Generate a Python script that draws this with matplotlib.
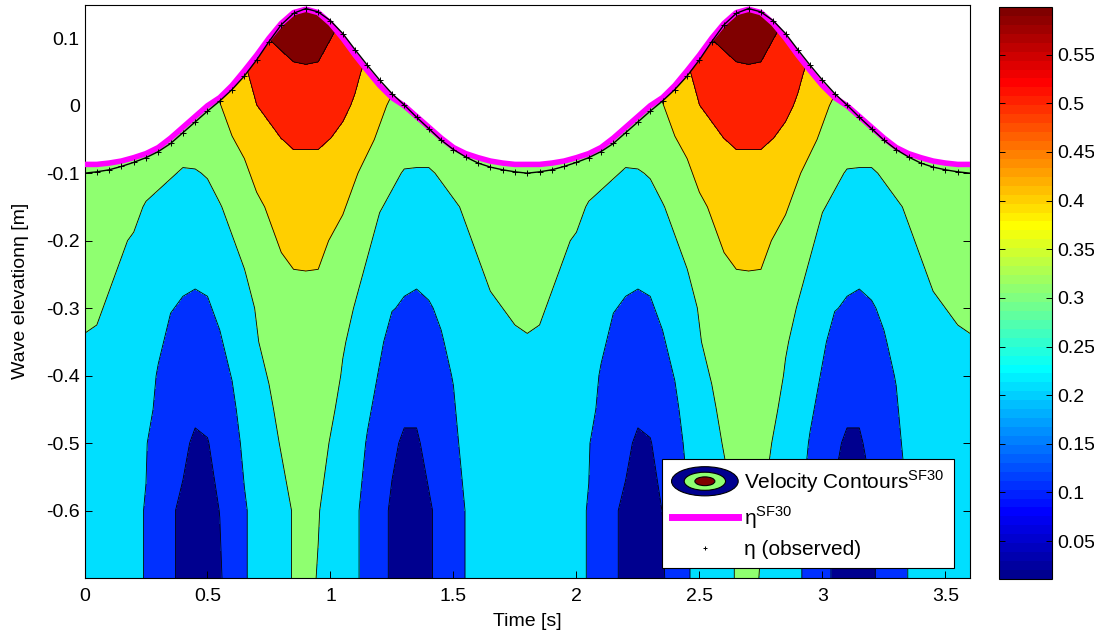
import numpy as np
import matplotlib
matplotlib.use('Agg')
import matplotlib.pyplot as plt
from matplotlib.colors import ListedColormap, Normalize
from matplotlib.cm import ScalarMappable
from matplotlib.patches import Ellipse, Patch
from matplotlib.lines import Line2D
from matplotlib.legend_handler import HandlerBase

plt.rcParams['font.family'] = ['Liberation Sans', 'DejaVu Sans']
plt.rcParams['mathtext.fontset'] = 'custom'
plt.rcParams['mathtext.rm'] = 'Liberation Sans'
plt.rcParams['axes.unicode_minus'] = False

# one wave period, sampled every 0.05 s from 0 to 1.8 s; the record shows it twice
period_samples = 37

eta_sf30 = [-0.087, -0.087, -0.085, -0.082, -0.077, -0.071, -0.062, -0.048, -0.032,
            -0.016, 0.000, 0.012, 0.030, 0.052, 0.075, 0.100, 0.122, 0.138, 0.143,
            0.138, 0.122, 0.100, 0.075, 0.052, 0.030, 0.012, 0.000, -0.016, -0.032,
            -0.048, -0.062, -0.071, -0.077, -0.082, -0.085, -0.087, -0.087]
eta_observed = [-0.100, -0.098, -0.095, -0.090, -0.084, -0.077, -0.068, -0.056, -0.040,
                -0.024, -0.008, 0.007, 0.024, 0.044, 0.068, 0.095, 0.120, 0.137, 0.144,
                0.139, 0.126, 0.107, 0.083, 0.060, 0.038, 0.018, 0.001, -0.017, -0.034,
                -0.051, -0.065, -0.076, -0.085, -0.091, -0.095, -0.098, -0.100]

# velocity magnitude [cm/s], one row per depth, one column per time sample
depth = [0.15, 0.10, 0.05, 0.0, -0.05, -0.10, -0.15, -0.20, -0.25, -0.30,
         -0.35, -0.40, -0.45, -0.50, -0.60, -0.70]
speed_cm = [
    [43, 42, 42, 42, 43, 45, 47, 46, 42, 47, 49, 48, 53, 56, 59, 61, 63, 64, 66, 64, 62, 61, 57, 55, 51, 50, 49, 46, 42, 44, 44, 42, 41, 41, 41, 42, 43],
    [42, 41, 41, 41, 41, 43, 44, 43, 40, 43, 45, 45, 50, 53, 56, 60, 61, 62, 63, 62, 60, 58, 55, 52, 48, 46, 45, 43, 40, 41, 41, 40, 40, 40, 40, 41, 42],
    [40, 40, 39, 39, 39, 40, 41, 40, 37, 40, 42, 43, 46, 49, 53, 56, 58, 59, 59, 59, 57, 55, 52, 48, 45, 43, 41, 40, 37, 39, 39, 39, 38, 39, 39, 40, 40],
    [39, 39, 38, 38, 37, 38, 38, 37, 35, 37, 38, 40, 43, 46, 50, 52, 54, 55, 55, 55, 54, 52, 49, 45, 42, 39, 38, 37, 35, 36, 37, 37, 37, 37, 38, 38, 39],
    [38, 37, 37, 36, 35, 35, 35, 34, 33, 34, 35, 37, 40, 42, 46, 48, 50, 51, 51, 51, 50, 48, 45, 42, 39, 35, 34, 33, 33, 34, 35, 35, 35, 36, 37, 37, 38],
    [37, 36, 35, 35, 34, 33, 32, 31, 30, 30, 31, 34, 36, 39, 42, 44, 47, 48, 48, 48, 47, 45, 41, 38, 35, 32, 30, 30, 30, 31, 32, 33, 34, 35, 35, 36, 37],
    [35, 35, 34, 33, 32, 30, 29, 28, 28, 28, 28, 30, 33, 36, 39, 41, 44, 45, 45, 45, 43, 41, 38, 35, 31, 29, 28, 27, 28, 29, 30, 31, 32, 33, 34, 35, 35],
    [34, 34, 33, 31, 30, 29, 27, 26, 25, 25, 25, 27, 30, 33, 36, 39, 41, 42, 43, 42, 40, 38, 35, 32, 28, 26, 25, 25, 25, 26, 28, 30, 31, 32, 33, 34, 34],
    [33, 32, 31, 30, 29, 28, 26, 23, 22, 22, 22, 25, 28, 30, 34, 37, 39, 40, 40, 40, 39, 36, 33, 29, 26, 23, 22, 22, 23, 24, 26, 29, 30, 31, 32, 32, 33],
    [32, 31, 30, 29, 28, 27, 24, 21, 20, 19, 20, 22, 25, 28, 31, 35, 37, 39, 39, 39, 37, 34, 30, 27, 24, 21, 20, 19, 20, 22, 25, 27, 29, 30, 30.5, 31, 32],
    [30, 30, 29, 28, 27, 25, 22, 19, 18, 17, 17, 20, 23, 27, 30, 33, 36, 37, 38, 37, 35, 31, 29, 26, 22, 18, 17, 17, 18, 20, 23, 26, 27, 28, 29, 30, 30],
    [29, 29, 28, 27, 26, 24, 20, 18, 16, 15, 15, 18, 21, 25, 28, 31, 34, 36, 37, 36, 33, 30, 27, 24, 20, 16, 15, 15, 16, 19, 21, 25, 26, 27, 28, 29, 29],
    [28, 28, 27, 26, 25, 23, 19, 16, 14, 12, 13, 16, 19, 24, 27, 29, 33, 35, 36, 35, 32, 28, 26, 22, 18, 14, 12, 12, 15, 17, 20, 24, 25, 26, 27, 28, 28],
    [27, 26, 25, 25, 24, 21, 18, 15, 12, 10, 10.5, 14, 18, 22, 26, 28, 31, 34, 35, 34, 30, 27, 25, 20, 17, 12, 10, 10, 13, 16, 19, 23, 24, 25, 26, 27, 27],
    [25, 24, 23, 22, 21.5, 20.5, 16, 11.5, 10, 8, 9, 11, 15, 20, 23, 26, 28, 31, 33, 31, 27, 25, 22, 18, 13, 10, 8, 8, 10, 13, 16, 21, 21, 22, 23, 24, 25],
    [25, 24, 23, 22, 21.5, 20.5, 16, 11.5, 10, 8, 9, 10, 15, 20, 23, 26, 28, 31, 33, 30, 27, 25, 22, 18, 13, 10, 8, 8, 10, 13, 16, 21, 21, 22, 23, 24, 25],
]
contour_levels = [0.109, 0.207, 0.305, 0.403, 0.501, 0.599]
cbar_ticks = [0.05, 0.1, 0.15, 0.2, 0.25, 0.3, 0.35, 0.4, 0.45, 0.5, 0.55]


def matlab_jet(m=64):
    n = int(np.ceil(m / 4))
    u = np.r_[np.arange(1, n + 1) / n, np.ones(n - 1), np.arange(n, 0, -1) / n]
    g = int(np.ceil(n / 2)) - (m % 4 == 1) + np.arange(1, len(u) + 1)
    r = g + n
    b = g - n
    J = np.zeros((m, 3))
    J[g[g <= m] - 1, 1] = u[g <= m]
    J[r[r <= m] - 1, 0] = u[r <= m]
    J[b[b >= 1] - 1, 2] = u[b >= 1]
    return J


class ContourIcon(HandlerBase):
    # nested ellipses, like the MATLAB legend entry of a filled contour
    def create_artists(self, legend, orig, xd, yd, width, height, fontsize, trans):
        cx, cy = xd + width / 2, yd + height / 2
        arts = []
        for s, c in [(1.0, band_colors[0]), (0.62, band_colors[3]), (0.3, band_colors[6])]:
            arts.append(Ellipse((cx, cy), width * s, height * 2.0 * s, facecolor=c,
                                edgecolor='k', lw=0.8, transform=trans))
        return arts


jet = matlab_jet(64)
band_colors = [jet[min(int(k / 6 * 64), 63)] for k in range(7)]

# two identical periods side by side
speed_period = np.array(speed_cm) / 100.0
speed = np.hstack([speed_period[:, :-1], speed_period])
eta_line = eta_sf30 + eta_sf30[1:]
eta_obs = eta_observed + eta_observed[1:]
time = np.linspace(0, 3.6, 2 * period_samples - 1)

fig = plt.figure(figsize=(10.94, 6.39), dpi=100)
ax = fig.add_axes([84.5 / 1094, 61 / 639, 885.5 / 1094, 573.5 / 639])

T, Z = np.meshgrid(time, depth)
ax.contourf(T, Z, speed, levels=[-1] + contour_levels + [2], colors=band_colors, zorder=1)
ax.contour(T, Z, speed, levels=contour_levels, colors='k', linewidths=0.6, zorder=1)
# nothing above the free surface
ax.fill_between(time, eta_line, 0.3, color='white', lw=0, zorder=2)
ax.plot(time, eta_line, color='#ff00ff', lw=4, solid_capstyle='butt', zorder=3)
ax.plot(time, eta_obs, color='k', lw=1.0, marker='+', ms=4, mew=0.7, zorder=4)

ax.set_xlim(0, 3.6)
ax.set_ylim(-0.7, 0.15)
ax.set_xticks([0, 0.5, 1, 1.5, 2, 2.5, 3, 3.5])
ax.set_xticklabels(['0', '0.5', '1', '1.5', '2', '2.5', '3', '3.5'])
ax.set_yticks([-0.6, -0.5, -0.4, -0.3, -0.2, -0.1, 0, 0.1])
ax.set_yticklabels(['-0.6', '-0.5', '-0.4', '-0.3', '-0.2', '-0.1', '0', '0.1'])
ax.tick_params(direction='in', top=True, right=True, length=5, labelsize=14, width=0.7)
ax.tick_params(axis='x', pad=7)
ax.set_xlabel('Time [s]', fontsize=14, labelpad=6)
ax.set_ylabel('Wave elevationη [m]', fontsize=14, labelpad=12)

proxy = Patch()
handles = [proxy,
           Line2D([], [], color='#ff00ff', lw=5),
           Line2D([], [], ls='none', marker='+', color='k', ms=3, mew=0.7)]
labels = ['Velocity Contours$^{\\mathrm{SF30}}$', 'η$^{\\mathrm{SF30}}$', 'η (observed)']
leg = ax.legend(handles, labels, handler_map={proxy: ContourIcon()}, loc='lower right',
                bbox_to_anchor=(0.982, 0.0166), borderaxespad=0, fontsize=15,
                fancybox=False, framealpha=1, edgecolor='k', handlelength=3.2,
                handletextpad=0.3, labelspacing=0.45, borderpad=0.45)
leg.get_frame().set_linewidth(0.8)
leg.set_zorder(10)

cax = fig.add_axes([999 / 1094, 60 / 639, 53 / 1094, 572 / 639])
cb = fig.colorbar(ScalarMappable(norm=Normalize(0.011, 0.599), cmap=ListedColormap(jet)),
                  cax=cax, ticks=cbar_ticks)
cb.ax.set_yticklabels([f'{v:g}' for v in cbar_ticks])
cb.ax.tick_params(direction='in', left=True, right=True, length=4, labelsize=14, width=0.7)
cb.outline.set_linewidth(0.8)

fig.savefig('out.png', dpi=100)
